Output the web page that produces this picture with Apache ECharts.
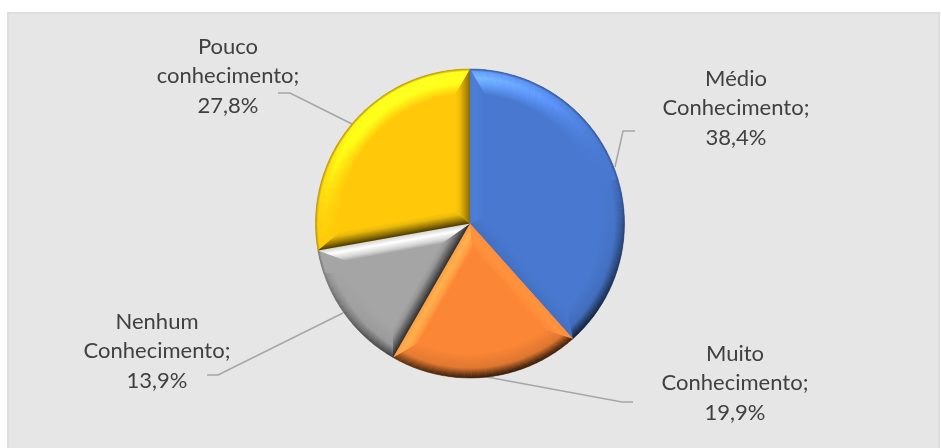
<!DOCTYPE html>
<html>
<head>
<meta charset="utf-8">
<script src="https://cdn.jsdelivr.net/npm/echarts@6/dist/echarts.min.js"></script>
<style>
html, body { margin: 0; background: #fff; }
#chart { width: 941px; height: 448px; }
</style>
</head>
<body>
<div id="chart"></div>
<script>
// data
const categories = ['Médio\nConhecimento', 'Muito\nConhecimento', 'Nenhum\nConhecimento', 'Pouco\nconhecimento'];
const values = [38.4, 19.9, 13.9, 27.8];
const colors = ['#4878cf', '#fb8636', '#a5a5a5', '#ffc90a'];

// pie geometry
const CX = 470, CY = 223.5, R = 154.5;
const EDGE = 15;   // bevel width on the straight edges
const RIM = 25;    // bevel width on the curved edge
const TOP_LIGHT = [-0.3, -0.95];
const SIDE_LIGHT = [-0.6, -0.8];

// label centre + leader line, same order as categories
const labelSpots = [
    { x: 736, y: 108, line: [[615, 167], [623, 131], [635, 131]] },
    { x: 735, y: 383, line: [[487, 377], [622, 402], [633, 402]] },
    { x: 157, y: 351, line: [[343, 313], [218, 375], [207, 375]] },
    { x: 228, y: 76, line: [[352, 124], [290, 93], [278, 93]] }
];

const total = values.reduce((a, b) => a + b, 0);

function polar(r, a) {
    return [CX + r * Math.sin(a), CY - r * Math.cos(a)];
}

function toRgb(hex) {
    return [1, 3, 5].map(i => parseInt(hex.substr(i, 2), 16));
}

// lit colour: s > 0 brightens, s < 0 darkens
function shade(rgb, s) {
    const k = s > 0 ? 1 + 0.45 * s : 1 + 0.8 * s;
    const add = s > 0 ? 20 * s : 0;
    return 'rgb(' + rgb.map(c => Math.max(0, Math.min(255, Math.round(c * k + add)))).join(',') + ')';
}

function rimStops(rgb, s) {
    const rIn = (R - RIM) / R;
    const at = t => rIn + t * (1 - rIn);
    if (s >= 0) {
        const p = s * s;
        return [
            { offset: at(0), color: shade(rgb, 0) },
            { offset: at(0.45), color: shade(rgb, p * 0.7) },
            { offset: at(0.65), color: shade(rgb, p) },
            { offset: at(0.9), color: shade(rgb, p * 0.6) },
            { offset: at(1), color: shade(rgb, -0.35) }
        ];
    }
    return [
        { offset: at(0), color: shade(rgb, 0) },
        { offset: at(0.6), color: shade(rgb, s * 0.15) },
        { offset: at(0.88), color: shade(rgb, s * 0.7 - 0.1) },
        { offset: at(1), color: shade(rgb, s * 0.7 - 0.3) }
    ];
}

function edgeStops(rgb, s) {
    if (s >= 0) {
        return [
            { offset: 0, color: shade(rgb, s * 0.5) },
            { offset: 0.35, color: shade(rgb, s) },
            { offset: 0.75, color: shade(rgb, s * 0.5) },
            { offset: 1, color: shade(rgb, 0) }
        ];
    }
    return [
        { offset: 0, color: shade(rgb, s) },
        { offset: 0.3, color: shade(rgb, s * 0.6) },
        { offset: 0.7, color: shade(rgb, s * 0.12) },
        { offset: 1, color: shade(rgb, 0) }
    ];
}

function edgeFacet(rgb, a, sign, corner, apex) {
    // outward normal of the straight edge at angle a
    const nx = sign * Math.cos(a), ny = sign * Math.sin(a);
    const top = nx * TOP_LIGHT[0] + ny * TOP_LIGHT[1];
    const side = nx * SIDE_LIGHT[0] + ny * SIDE_LIGHT[1];
    const s = top > 0 ? top * top : Math.min(side, 0);
    return {
        type: 'polygon',
        silent: true,
        shape: { points: [[CX, CY], polar(R, a), corner, apex] },
        style: {
            fill: {
                type: 'linear', global: true,
                x: CX, y: CY,
                x2: CX - nx * EDGE, y2: CY - ny * EDGE,
                colorStops: edgeStops(rgb, s)
            }
        }
    };
}

function bevel(params) {
    const i = params.dataIndex;
    const rgb = toRgb(colors[i]);
    const start = values.slice(0, i).reduce((a, b) => a + b, 0) / total * Math.PI * 2;
    const end = start + values[i] / total * Math.PI * 2;
    const half = (end - start) / 2;
    const mid = start + half;
    const rIn = R - RIM;
    const da = Math.asin(EDGE / rIn);
    const apex = polar(EDGE / Math.sin(half), mid);
    const b0 = start + da, b1 = end - da;
    const children = [];

    // curved edge cut in short pieces, each one lit by its own normal
    const steps = Math.ceil((end - start) / 0.05);
    for (let k = 0; k < steps; k++) {
        const t0 = k / steps, t1 = (k + 1) / steps;
        const oa = start + t0 * (end - start), ob = start + t1 * (end - start);
        const ia = b0 + t0 * (b1 - b0), ib = b0 + t1 * (b1 - b0);
        const am = (oa + ob) / 2;
        const s = Math.sin(am) * TOP_LIGHT[0] - Math.cos(am) * TOP_LIGHT[1];
        const grad = {
            type: 'radial', global: true, x: CX, y: CY, r: R,
            colorStops: rimStops(rgb, s)
        };
        children.push({
            type: 'polygon',
            silent: true,
            shape: { points: [polar(R, oa), polar(R, ob), polar(rIn, ib), polar(rIn, ia)] },
            style: { fill: grad, stroke: grad, lineWidth: 0.5 }
        });
    }

    children.push(edgeFacet(rgb, start, -1, polar(rIn, b0), apex));
    children.push(edgeFacet(rgb, end, 1, polar(rIn, b1), apex));
    return { type: 'group', children };
}

const chart = echarts.init(document.getElementById('chart'), null, { renderer: 'canvas' });

chart.setOption({
    animation: false,
    backgroundColor: '#fff',
    graphic: [{
        type: 'rect',
        silent: true,
        z: -10,
        shape: { x: 8, y: 13, width: 931, height: 440 },
        style: { fill: '#e6e6e6', stroke: '#dedede', lineWidth: 2 }
    }],
    series: [
        {
            type: 'pie',
            center: [CX, CY],
            radius: [0, R],
            startAngle: 90,
            clockwise: true,
            silent: true,
            z: 2,
            itemStyle: { borderWidth: 0 },
            label: {
                show: true,
                position: 'outside',
                alignTo: 'none',
                fontFamily: 'Lato, "Open Sans", sans-serif',
                fontSize: 22,
                lineHeight: 29.5,
                color: '#404040',
                align: 'center',
                formatter: p => p.name + ';\n' + p.value.toFixed(1).replace('.', ',') + '%'
            },
            labelLine: {
                show: true,
                length: 10,
                length2: 10,
                smooth: false,
                lineStyle: { color: '#a6a6a6', width: 1.5 }
            },
            labelLayout: params => {
                const spot = labelSpots[params.dataIndex];
                return {
                    x: spot.x,
                    y: spot.y,
                    align: 'center',
                    verticalAlign: 'middle',
                    labelLinePoints: spot.line
                };
            },
            data: categories.map((name, i) => ({
                name,
                value: values[i],
                itemStyle: { color: colors[i] }
            }))
        },
        {
            type: 'custom',
            coordinateSystem: 'none',
            silent: true,
            z: 3,
            renderItem: bevel,
            data: values
        }
    ]
});
</script>
</body>
</html>
